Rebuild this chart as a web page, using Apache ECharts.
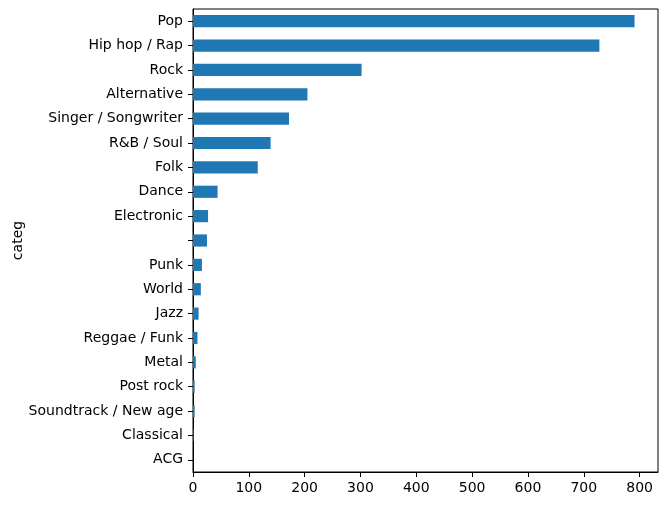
<!DOCTYPE html>
<html><head><meta charset="utf-8">
<script src="https://cdn.jsdelivr.net/npm/echarts@6/dist/echarts.min.js"></script>
<style>html,body{margin:0;padding:0;background:#fff}#c{width:667px;height:505px}</style>
</head><body><div id="c"></div>
<script>
const categories = ['Pop','Hip hop / Rap','Rock','Alternative','Singer / Songwriter','R&B / Soul','Folk','Dance','Electronic','','Punk','World','Jazz','Reggae / Funk','Metal','Post rock','Soundtrack / New age','Classical','ACG'];
const values = [791,728,302,205,172,139,116,44,27,25,16,14,10,8,5,3,3,1,0];
const xTicks = [0,100,200,300,400,500,600,700,800];
const axisName = 'categ';
</script>
<script>
const chart = echarts.init(document.getElementById('c'));
const font = 'DejaVu Sans';
chart.setOption({
  animation: false,
  grid: {left: 193, right: 9, top: 9, bottom: 33, show: true, borderColor: '#000', borderWidth: 1, containLabel: false, outerBoundsMode: 'none'},
  xAxis: {
    type: 'value', min: 0, max: 833, interval: 100,
    axisLine: {show: true, lineStyle: {color: '#000'}},
    axisTick: {show: true, length: 5, lineStyle: {color: '#000'}, customValues: xTicks},
    axisLabel: {color: '#000', fontSize: 14, fontFamily: font, margin: 9, customValues: xTicks},
    splitLine: {show: false}
  },
  yAxis: {
    type: 'category', data: categories, inverse: true,
    name: axisName, nameLocation: 'middle', nameGap: 168, nameRotate: 90, nameMoveOverlap: false,
    nameTextStyle: {color: '#000', fontSize: 14, fontFamily: font},
    axisLine: {show: true, lineStyle: {color: '#000'}},
    axisTick: {show: true, alignWithLabel: true, length: 5, lineStyle: {color: '#000'}},
    axisLabel: {color: '#000', fontSize: 14, fontFamily: font, margin: 10}
  },
  series: [{type: 'bar', data: values, barWidth: '50%', itemStyle: {color: '#1f77b4'}}]
});
</script>
</body></html>
